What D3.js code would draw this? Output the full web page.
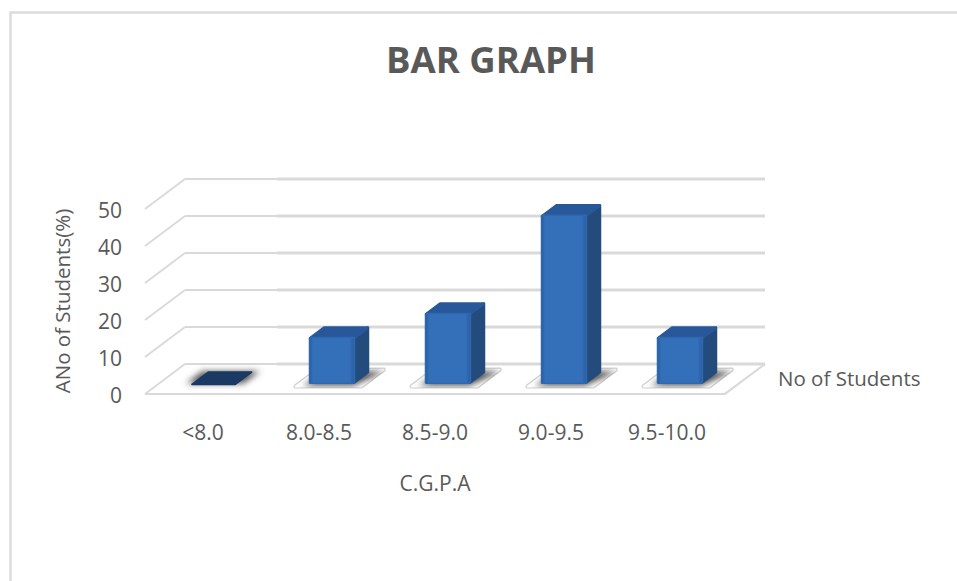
<!DOCTYPE html>
<html>
<head>
<meta charset="utf-8">
<script src="https://cdn.jsdelivr.net/npm/d3@7"></script>
<style>
    html, body { margin: 0; padding: 0; background: #fff; }
    svg { display: block; }
    text { font-family: "Open Sans", sans-serif; fill: #595959; }
</style>
</head>
<body>
<svg id="chart" width="957" height="581"></svg>
<script>
// Chart data
const categories = ['<8.0', '8.0-8.5', '8.5-9.0', '9.0-9.5', '9.5-10.0'];
const noOfStudents = [0, 12, 18.5, 45, 12];
const yTicks = [0, 10, 20, 30, 40, 50];

const svg = d3.select('#chart');

const x = d3.scaleBand().domain(categories).range([145, 725]);
const y = d3.scaleLinear().domain([0, 50]).range([394, 209]);
// Depth of the 3D floor, 0 = front edge, 1 = back wall
const depthX = d3.scaleLinear().domain([0, 1]).range([0, 40]);
const depthY = d3.scaleLinear().domain([0, 1]).range([0, 30]);

const barWidth = 43.5 / x.bandwidth();
const barDepth = [0.38, 0.73];
const floorDepth = [0.2, 0.86];
const patchBand = [0.19, 0.8];

// band position u is a fraction of the band, 0..1
function project(cat, u, value, depth) {
    return [
        x(cat) + u * x.bandwidth() + depthX(depth),
        y(value) - depthY(depth)
    ];
}

function poly(points) {
    return d3.line()(points) + 'Z';
}

// polygon with rounded corners, r in pixels
function roundedPoly(points, r) {
    const path = d3.path();
    const last = points[points.length - 1];
    path.moveTo((last[0] + points[0][0]) / 2, (last[1] + points[0][1]) / 2);
    points.forEach((p, i) => {
        const next = points[(i + 1) % points.length];
        path.arcTo(p[0], p[1], next[0], next[1], r);
    });
    path.closePath();
    return path.toString();
}

const defs = svg.append('defs');
const frontGrad = defs.append('linearGradient').attr('id', 'barFront');
frontGrad.append('stop').attr('offset', '0%').attr('stop-color', '#2b60a5');
frontGrad.append('stop').attr('offset', '7%').attr('stop-color', '#3470b9');
frontGrad.append('stop').attr('offset', '90%').attr('stop-color', '#3470b9');
frontGrad.append('stop').attr('offset', '100%').attr('stop-color', '#2a5fa5');
defs.append('filter').attr('id', 'blurShadow')
    .attr('x', '-40%').attr('y', '-80%').attr('width', '180%').attr('height', '260%')
    .append('feGaussianBlur').attr('stdDeviation', 3);

// Chart frame
svg.append('path')
    .attr('d', 'M10.5,581V12.5H957')
    .attr('fill', 'none')
    .attr('stroke', '#dcdcdc')
    .attr('stroke-width', 2.5);

// Gridlines: back wall and left wall
const grid = svg.append('g').attr('fill', 'none').attr('stroke', '#d9d9d9');
const left = x.range()[0];
const right = x.range()[1];
const backY = v => y(v) - depthY(1);

grid.selectAll('.wall-left').data(yTicks).join('line')
    .attr('x1', left).attr('y1', d => y(d))
    .attr('x2', left + depthX(1)).attr('y2', backY)
    .attr('stroke-width', 1.8);
grid.selectAll('.wall-back-a').data(yTicks).join('line')
    .attr('x1', left + depthX(1)).attr('y1', backY)
    .attr('x2', 277).attr('y2', backY)
    .attr('stroke-width', 1.8);
grid.selectAll('.wall-back-b').data(yTicks).join('line')
    .attr('x1', 277).attr('y1', backY)
    .attr('x2', right + depthX(1)).attr('y2', backY)
    .attr('stroke-width', 3);

// Floor edges
grid.append('path')
    .attr('d', d3.line()([
        [left, y(0)], [right, y(0)],
        [right + depthX(1), y(0) - depthY(1)]
    ]))
    .attr('stroke-width', 2.2);

// Bars
const bars = svg.append('g').selectAll('g')
    .data(categories.map((c, i) => ({ cat: c, value: noOfStudents[i] })))
    .join('g');

const barCenter = 0.481;
const u0 = barCenter - barWidth / 2;
const u1 = barCenter + barWidth / 2;
const [d0, d1] = barDepth;

// floor patch under each bar
const patchPoints = d => [
    project(d.cat, patchBand[0], 0, floorDepth[0]),
    project(d.cat, patchBand[1], 0, floorDepth[0]),
    project(d.cat, patchBand[1], 0, floorDepth[1]),
    project(d.cat, patchBand[0], 0, floorDepth[1])
];

bars.filter(d => d.value > 0).append('path')
    .attr('d', d => roundedPoly(patchPoints(d), 1.5))
    .attr('fill', '#fff')
    .attr('stroke', '#cfcfcf')
    .attr('stroke-width', 1.2);

// contact shadow, kept inside the floor patch
bars.each(function(d, i) {
    const clipId = 'patch' + i;
    const g = d3.select(this).append('g');
    if (d.value > 0) {
        defs.append('clipPath').attr('id', clipId)
            .append('path').attr('d', roundedPoly(patchPoints(d), 1.5));
        g.attr('clip-path', `url(#${clipId})`);
        g.append('path')
            .attr('d', poly([
                project(d.cat, u0 - 0.03, 0, d0 - 0.1),
                project(d.cat, u1 + 0.03, 0, d0 - 0.1),
                project(d.cat, u1 + 0.14, 0, d1 + 0.02),
                project(d.cat, u0 + 0.02, 0, d1 + 0.02)
            ]))
            .attr('fill', '#4a4a4a')
            .attr('filter', 'url(#blurShadow)');
    } else {
        g.append('path')
            .attr('d', poly([
                project(d.cat, u0 - 0.06, 0, d0 - 0.03),
                project(d.cat, u1 + 0.06, 0, d0 - 0.03),
                project(d.cat, u1 + 0.06, 0, d1 + 0.03),
                project(d.cat, u0 - 0.06, 0, d1 + 0.03)
            ]))
            .attr('fill', '#555')
            .attr('filter', 'url(#blurShadow)');
    }
});

function drawFace(sel, fill, pointsFn) {
    sel.append('path')
        .attr('d', d => poly(pointsFn(d)))
        .attr('fill', fill)
        .attr('stroke', fill)
        .attr('stroke-width', 3)
        .attr('stroke-linejoin', 'round');
}

const solid = bars.filter(d => d.value > 0);
drawFace(solid, '#234b7c', d => [
    project(d.cat, u1, 0, d0),
    project(d.cat, u1, 0, d1),
    project(d.cat, u1, d.value, d1),
    project(d.cat, u1, d.value, d0)
]);
drawFace(solid, '#28589a', d => [
    project(d.cat, u0, d.value, d0),
    project(d.cat, u1, d.value, d0),
    project(d.cat, u1, d.value, d1),
    project(d.cat, u0, d.value, d1)
]);
drawFace(solid, '#2f68af', d => [
    project(d.cat, u0, 0, d0),
    project(d.cat, u1, 0, d0),
    project(d.cat, u1, d.value, d0),
    project(d.cat, u0, d.value, d0)
]);
solid.append('path')
    .attr('d', d => poly([
        project(d.cat, u0, 0, d0),
        project(d.cat, u1, 0, d0),
        project(d.cat, u1, d.value, d0),
        project(d.cat, u0, d.value, d0)
    ]))
    .attr('fill', 'url(#barFront)');

// zero height bar is only its flat top
const flat = bars.filter(d => d.value === 0);
flat.append('path')
    .attr('d', d => poly([
        project(d.cat, u0, 0, d0 - 0.06),
        project(d.cat, u1, 0, d0 - 0.06),
        project(d.cat, u1, 0, d1),
        project(d.cat, u0, 0, d1)
    ]))
    .attr('fill', '#1b3a63')
    .attr('stroke', '#1b3a63')
    .attr('stroke-width', 1.5)
    .attr('stroke-linejoin', 'round');

// Axes
const yAxis = svg.append('g')
    .attr('transform', 'translate(135,1.5)')
    .call(d3.axisLeft(y).tickValues(yTicks).tickSize(0).tickPadding(13));
yAxis.select('.domain').remove();
yAxis.selectAll('text').style('font-size', '21px').style('font-family', null);

const xAxis = svg.append('g')
    .attr('transform', `translate(0,${y(0) + 28})`)
    .call(d3.axisBottom(x).tickSize(0).tickPadding(3));
xAxis.select('.domain').remove();
xAxis.selectAll('text').style('font-size', '21px').style('font-family', null);

// Titles
svg.append('text')
    .attr('x', 491).attr('y', 73)
    .attr('text-anchor', 'middle')
    .style('font-size', '36.5px')
    .style('font-weight', 700)
    .text('BAR GRAPH');

svg.append('text')
    .attr('x', 435).attr('y', 491)
    .attr('text-anchor', 'middle')
    .style('font-size', '21px')
    .text('C.G.P.A');

svg.append('text')
    .attr('transform', 'translate(70,301) rotate(-90)')
    .attr('text-anchor', 'middle')
    .style('font-size', '20.5px')
    .text('ANo of Students(%)');

svg.append('text')
    .attr('x', 778).attr('y', 386)
    .style('font-size', '20.5px')
    .text('No of Students');
</script>
</body>
</html>
